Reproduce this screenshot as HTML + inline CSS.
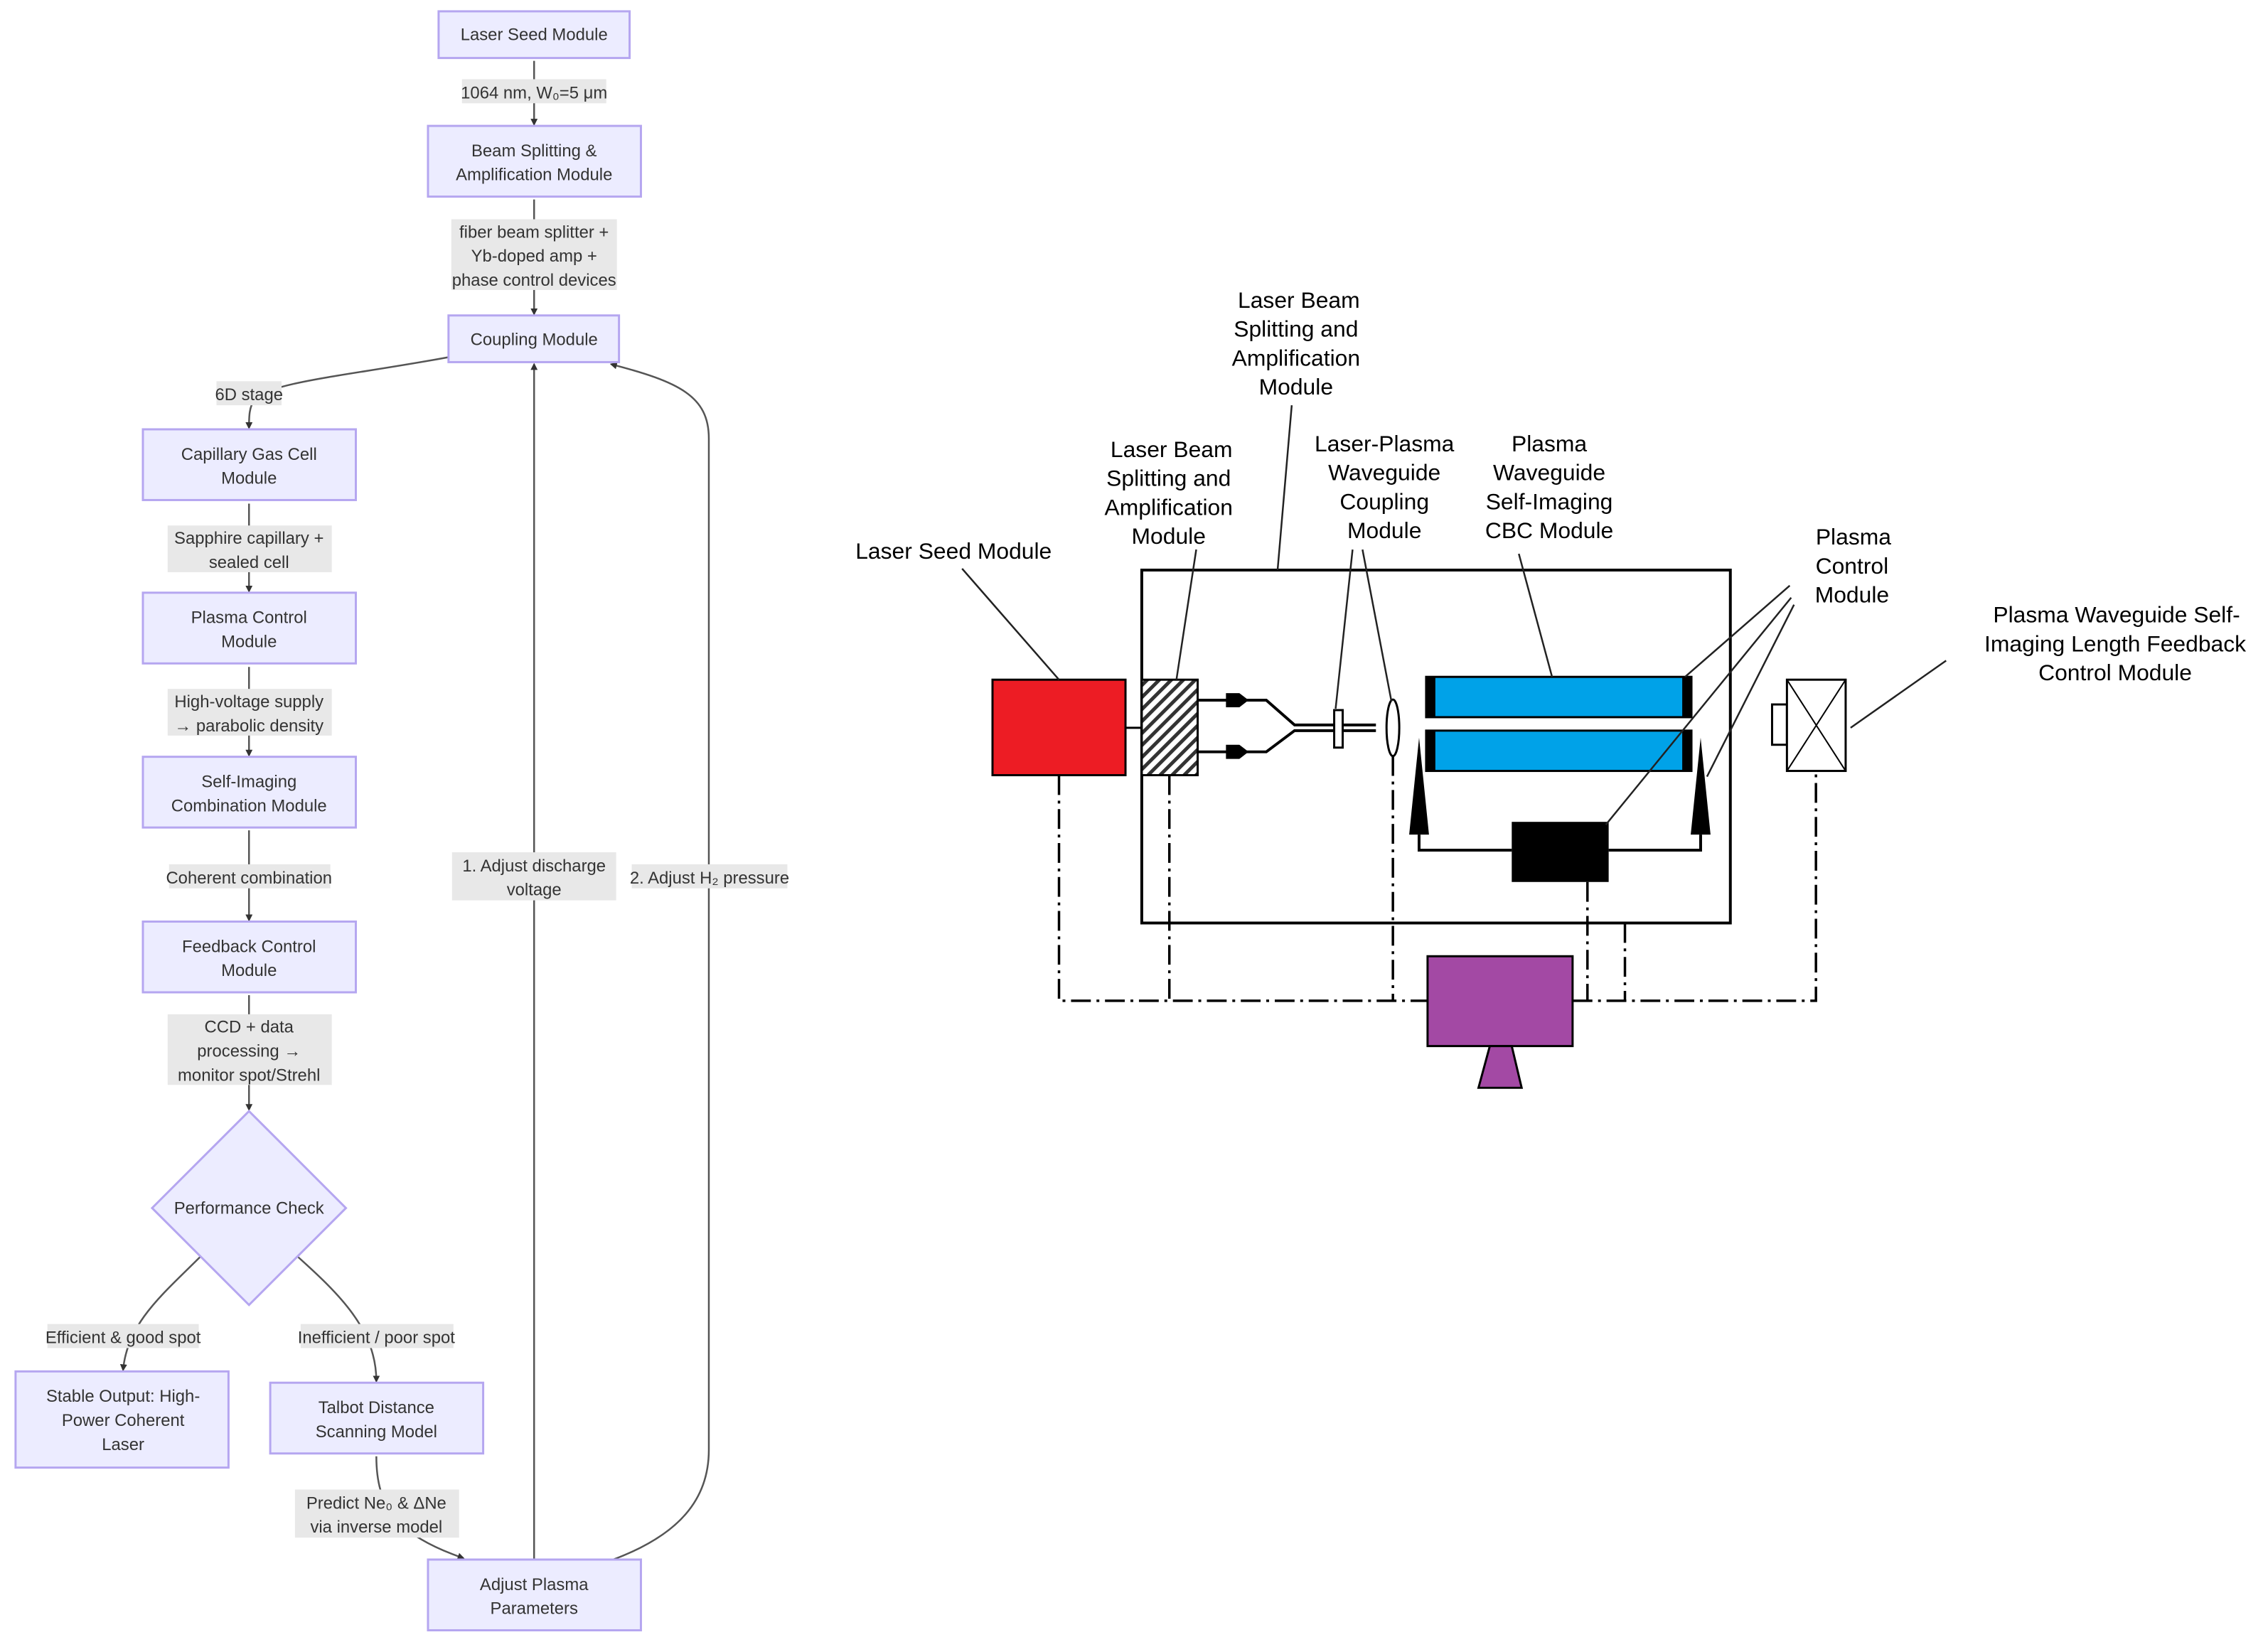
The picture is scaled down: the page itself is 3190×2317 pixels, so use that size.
<!DOCTYPE html>
<html><head><meta charset="utf-8"><style>
html,body{margin:0;padding:0;background:#fff;}
svg{display:block;}
.n{fill:#ECECFF;stroke:#B5A6F0;stroke-width:3;}
.t{font-family:"Liberation Sans",sans-serif;font-size:24px;fill:#333;text-anchor:middle;}
.lb{fill:#E8E8E8;}
.e{stroke:#555;stroke-width:2.5;fill:none;}
.r{font-family:"Liberation Sans",sans-serif;font-size:32px;fill:#000;text-anchor:middle;}
.k{stroke:#000;stroke-width:4;fill:none;}
.d{stroke:#000;stroke-width:3.5;fill:none;stroke-dasharray:28 8 4 8;}
.ld{stroke:#222;stroke-width:2.5;}
</style></head><body>
<svg width="3190" height="2317" viewBox="0 0 3190 2317" xmlns="http://www.w3.org/2000/svg">
<defs>
<marker id="a" markerWidth="10" markerHeight="10" refX="8" refY="5" orient="auto" markerUnits="userSpaceOnUse"><path d="M0,0 L10,5 L0,10z" fill="#333"/></marker>
<pattern id="h" width="12" height="12" patternUnits="userSpaceOnUse" patternTransform="rotate(45)"><rect width="12" height="12" fill="#fff"/><rect width="5" height="12" fill="#333"/></pattern>
</defs>
<g transform="scale(0.995)">
<!-- left flowchart edges -->
<path class="e" d="M755,86 V176" marker-end="url(#a)"/>
<path class="e" d="M755,282 V444" marker-end="url(#a)"/>
<path class="e" d="M634,505 C500,530 380,540 360,565 C352,575 352,590 352,605" marker-end="url(#a)"/>
<path class="e" d="M352,712 V836" marker-end="url(#a)"/>
<path class="e" d="M352,943 V1068" marker-end="url(#a)"/>
<path class="e" d="M352,1174 V1301" marker-end="url(#a)"/>
<path class="e" d="M352,1407 V1569" marker-end="url(#a)"/>
<path class="e" d="M284,1776 C230,1830 180,1870 174,1937" marker-end="url(#a)"/>
<path class="e" d="M420,1776 C480,1830 532,1880 532,1953" marker-end="url(#a)"/>
<path class="e" d="M532,2059 C532,2130 560,2170 655,2203" marker-end="url(#a)"/>
<path class="e" d="M755,2205 V515" marker-end="url(#a)"/>
<path class="e" d="M867,2205 C960,2170 1002,2120 1002,2050 V620 C1002,560 960,540 864,515" marker-end="url(#a)"/>
<!-- edge labels -->
<rect class="lb" x="653" y="112" width="204" height="34"/><text class="t" x="755" y="139">1064 nm, W₀=5 μm</text>
<rect class="lb" x="638" y="310" width="234" height="100"/><text class="t" x="755" y="336">fiber beam splitter +</text><text class="t" x="755" y="370">Yb-doped amp +</text><text class="t" x="755" y="404">phase control devices</text>
<rect class="lb" x="306" y="539" width="92" height="34"/><text class="t" x="352" y="566">6D stage</text>
<rect class="lb" x="237" y="743" width="232" height="66"/><text class="t" x="352" y="769">Sapphire capillary +</text><text class="t" x="352" y="803">sealed cell</text>
<rect class="lb" x="237" y="974" width="232" height="66"/><text class="t" x="352" y="1000">High-voltage supply</text><text class="t" x="352" y="1034">→ parabolic density</text>
<rect class="lb" x="239" y="1222" width="228" height="34"/><text class="t" x="352" y="1249">Coherent combination</text>
<rect class="lb" x="237" y="1434" width="232" height="100"/><text class="t" x="352" y="1460">CCD + data</text><text class="t" x="352" y="1494">processing →</text><text class="t" x="352" y="1528">monitor spot/Strehl</text>
<rect class="lb" x="67" y="1872" width="214" height="34"/><text class="t" x="174" y="1899">Efficient &amp; good spot</text>
<rect class="lb" x="425" y="1872" width="216" height="34"/><text class="t" x="532" y="1899">Inefficient / poor spot</text>
<rect class="lb" x="417" y="2106" width="232" height="68"/><text class="t" x="532" y="2133">Predict Ne₀ &amp; ΔNe</text><text class="t" x="532" y="2167">via inverse model</text>
<rect class="lb" x="639" y="1205" width="232" height="68"/><text class="t" x="755" y="1232">1. Adjust discharge</text><text class="t" x="755" y="1266">voltage</text>
<rect class="lb" x="893" y="1222" width="220" height="34"/><text class="t" x="1003" y="1249">2. Adjust H₂ pressure</text>
<!-- nodes -->
<rect class="n" x="620" y="16" width="270" height="66"/><text class="t" x="755" y="57">Laser Seed Module</text>
<rect class="n" x="605" y="178" width="301" height="100"/><text class="t" x="755" y="221">Beam Splitting &amp;</text><text class="t" x="755" y="255">Amplification Module</text>
<rect class="n" x="634" y="446" width="241" height="66"/><text class="t" x="755" y="488">Coupling Module</text>
<rect class="n" x="202" y="607" width="301" height="100"/><text class="t" x="352" y="650">Capillary Gas Cell</text><text class="t" x="352" y="684">Module</text>
<rect class="n" x="202" y="838" width="301" height="100"/><text class="t" x="352" y="881">Plasma Control</text><text class="t" x="352" y="915">Module</text>
<rect class="n" x="202" y="1070" width="301" height="100"/><text class="t" x="352" y="1113">Self-Imaging</text><text class="t" x="352" y="1147">Combination Module</text>
<rect class="n" x="202" y="1303" width="301" height="100"/><text class="t" x="352" y="1346">Feedback Control</text><text class="t" x="352" y="1380">Module</text>
<polygon class="n" points="352,1571 489,1708 352,1845 215,1708"/><text class="t" x="352" y="1716">Performance Check</text>
<rect class="n" x="22" y="1939" width="301" height="136"/><text class="t" x="174" y="1982">Stable Output: High-</text><text class="t" x="174" y="2016">Power Coherent</text><text class="t" x="174" y="2050">Laser</text>
<rect class="n" x="382" y="1955" width="301" height="100"/><text class="t" x="532" y="1998">Talbot Distance</text><text class="t" x="532" y="2032">Scanning Model</text>
<rect class="n" x="605" y="2205" width="301" height="100"/><text class="t" x="755" y="2248">Adjust Plasma</text><text class="t" x="755" y="2282">Parameters</text>

<!-- right diagram -->
<path class="d" d="M1497,1096 V1415 H2018 M2223,1415 H2567 V1090 M1653,1096 V1415 M1969,1069 V1415 M2244,1247 V1415 M2297,1305 V1415"/>
<rect class="k" x="1614" y="806" width="832" height="499"/>
<rect x="1403" y="961" width="188" height="135" fill="#ED1C24" stroke="#000" stroke-width="3"/>
<line x1="1591" y1="1029" x2="1614" y2="1029" stroke="#000" stroke-width="3"/>
<rect x="1614" y="961" width="79" height="135" fill="url(#h)" stroke="#000" stroke-width="3"/>
<path class="k" d="M1693,990 H1790 L1830,1025 H1885 M1693,1063 H1790 L1830,1033 H1885 M1898,1025 H1945 M1898,1033 H1945"/>
<polygon points="1733,980 1752,980 1765,990 1752,1000 1733,1000" fill="#000"/>
<polygon points="1733,1053 1752,1053 1765,1063 1752,1073 1733,1073" fill="#000"/>
<rect x="1886" y="1004" width="12" height="53" fill="#fff" stroke="#000" stroke-width="3"/>
<ellipse cx="1969" cy="1029" rx="9" ry="40" fill="#fff" stroke="#000" stroke-width="3"/>
<rect x="2016" y="957" width="375" height="57" fill="#00A2E8" stroke="#000" stroke-width="3"/>
<rect x="2016" y="1033" width="375" height="57" fill="#00A2E8" stroke="#000" stroke-width="3"/>
<rect x="2016" y="957" width="13" height="57" fill="#000"/><rect x="2378" y="957" width="13" height="57" fill="#000"/>
<rect x="2016" y="1033" width="13" height="57" fill="#000"/><rect x="2378" y="1033" width="13" height="57" fill="#000"/>
<polygon points="2006,1043 2020,1180 1992,1180" fill="#000"/>
<polygon points="2404,1043 2418,1180 2390,1180" fill="#000"/>
<path class="k" d="M2006,1180 V1202 H2137 M2274,1202 H2404 V1180"/>
<rect x="2137" y="1162" width="137" height="85" fill="#000"/>
<rect x="2505" y="996" width="21" height="57" fill="#fff" stroke="#000" stroke-width="3"/>
<rect x="2526" y="961" width="83" height="129" fill="#fff" stroke="#000" stroke-width="3"/>
<path d="M2526,961 L2609,1090 M2609,961 L2526,1090" stroke="#000" stroke-width="2"/>
<rect x="2018" y="1352" width="205" height="127" fill="#A349A4" stroke="#000" stroke-width="3"/>
<polygon points="2106,1479 2137,1479 2151,1538 2090,1538" fill="#A349A4" stroke="#000" stroke-width="3"/>
<!-- leaders -->
<line class="ld" x1="1360" y1="804" x2="1497" y2="961"/>
<line class="ld" x1="1691" y1="777" x2="1663" y2="961"/>
<line class="ld" x1="1826" y1="573" x2="1806" y2="806"/>
<line class="ld" x1="1912" y1="777" x2="1888" y2="1002"/>
<line class="ld" x1="1926" y1="777" x2="1967" y2="992"/>
<line class="ld" x1="2147" y1="783" x2="2194" y2="957"/>
<line class="ld" x1="2530" y1="828" x2="2382" y2="957"/>
<line class="ld" x1="2532" y1="845" x2="2270" y2="1166"/>
<line class="ld" x1="2536" y1="855" x2="2413" y2="1098"/>
<line class="ld" x1="2751" y1="934" x2="2616" y2="1029"/>
<!-- labels -->
<text class="r" x="1348" y="790">Laser Seed Module</text>
<text class="r" x="1656" y="646">Laser Beam</text><text class="r" x="1652" y="687">Splitting and</text><text class="r" x="1652" y="728">Amplification</text><text class="r" x="1652" y="769">Module</text>
<text class="r" x="1836" y="435">Laser Beam</text><text class="r" x="1832" y="476">Splitting and</text><text class="r" x="1832" y="517">Amplification</text><text class="r" x="1832" y="558">Module</text>
<text class="r" x="1957" y="638">Laser-Plasma</text><text class="r" x="1957" y="679">Waveguide</text><text class="r" x="1957" y="720">Coupling</text><text class="r" x="1957" y="761">Module</text>
<text class="r" x="2190" y="638">Plasma</text><text class="r" x="2190" y="679">Waveguide</text><text class="r" x="2190" y="720">Self-Imaging</text><text class="r" x="2190" y="761">CBC Module</text>
<text class="r" x="2620" y="770">Plasma</text><text class="r" x="2618" y="811">Control</text><text class="r" x="2618" y="852">Module</text>
<text class="r" x="2992" y="880">Plasma Waveguide Self-</text><text class="r" x="2990" y="921">Imaging Length Feedback</text><text class="r" x="2990" y="962">Control Module</text>
</g>
</svg>
</body></html>
